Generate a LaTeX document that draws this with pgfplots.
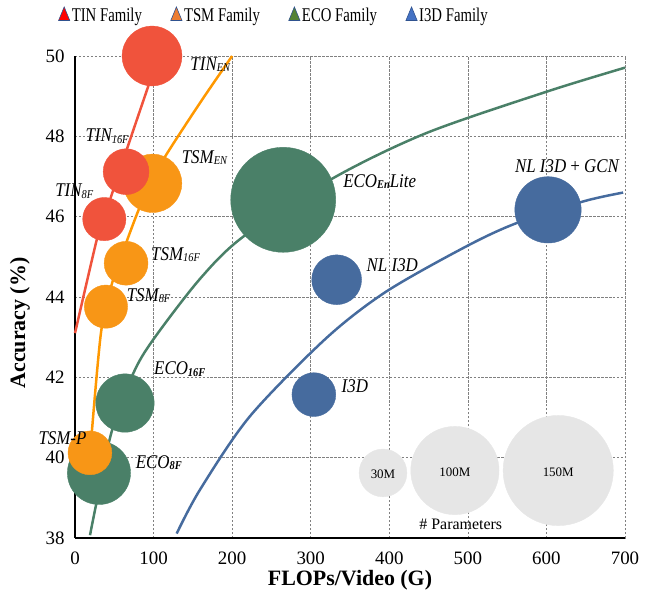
\documentclass[border=0pt]{standalone}
\usepackage{fontspec}
\setmainfont{Liberation Serif}
\newfontfamily\legfont[FakeStretch=0.76]{Liberation Serif}
\newfontfamily\labfont[FakeStretch=0.87]{Liberation Serif}
\usepackage{pgfplots}
\pgfplotsset{compat=1.18}

\definecolor{tinc}{RGB}{240,83,60}
\definecolor{tsmc}{RGB}{248,150,22}
\definecolor{tsml}{RGB}{255,152,0}
\definecolor{ecoc}{RGB}{74,128,104}
\definecolor{i3dc}{RGB}{70,107,158}
\definecolor{parc}{RGB}{230,230,230}
\definecolor{legout}{RGB}{47,82,143}
\definecolor{legtsm}{RGB}{237,125,49}
\definecolor{legeco}{RGB}{84,130,53}
\definecolor{legi3d}{RGB}{68,114,196}

\newcommand{\lf}{\labfont\fontsize{19.5}{19.5}\selectfont\itshape}
\newcommand{\sub}[1]{\raisebox{-1.5pt}{\fontsize{12}{12}\selectfont\itshape #1}}
\newcommand{\bsub}[1]{\raisebox{-1.5pt}{\fontsize{12}{12}\selectfont\bfseries\itshape #1}}
% bubble: colour, radius (bp), x, y
\newcommand{\bubble}[4]{\addplot[only marks, mark=*, mark size=#2pt, color=#1, forget plot] coordinates {(#3,#4)};}
\pgfplotsset{legtri/.style={only marks, mark=triangle*, mark size=6.5pt, mark options={fill=#1, draw=legout, line width=0.6pt, yscale=1.4}}}

\begin{document}
\begin{tikzpicture}
\begin{axis}[name=ax, scale only axis, width=550bp, height=482bp,
  xmin=0, xmax=700, ymin=38, ymax=50,
  xtick={0,100,...,700}, ytick={38,40,...,50},
  grid=major, major grid style={dash pattern=on 2.5pt off 1.5pt, gray, line width=0.7pt},
  axis x line*=bottom, axis y line*=left,
  axis line style={line width=2.8pt, -},
  major tick length=0pt,
  clip=false,
  /pgf/number format/assume math mode=true,
  ticklabel style={font=\rmfamily\fontsize{19}{19}\selectfont},
  xticklabel style={yshift=-10pt},
  yticklabel style={xshift=-7pt},
  xlabel={FLOPs/Video (G)},
  ylabel={Accuracy (\%)},
  xlabel style={font=\rmfamily\fontsize{22}{22}\selectfont\bfseries, at={(axis description cs:0.5,-0.0975)}, anchor=base},
  ylabel style={font=\rmfamily\fontsize{22}{22}\selectfont\bfseries, at={(axis description cs:-0.0909,0.446)}, anchor=base},
  legend style={at={(0.362,1.083)}, anchor=center, draw=none, fill=none,
    legend columns=4, font=\legfont\fontsize{19.5}{19.5}\selectfont,
    /tikz/every even column/.append style={column sep=27pt}},
]
\addlegendimage{legtri=red}
\addlegendentry{TIN Family}
\addlegendimage{legtri=legtsm}
\addlegendentry{TSM Family}
\addlegendimage{legtri=legeco}
\addlegendentry{ECO Family}
\addlegendimage{legtri=legi3d}
\addlegendentry{I3D Family}

% trend lines
\addplot[tinc, line width=2.5pt, smooth, tension=0.4, forget plot] coordinates {
 (0,43.1) (27.6,45.42) (37.3,46.0) (44.5,46.42) (70,47.91) (94.5,49.32)};
\addplot[tsml, line width=2.5pt, smooth, tension=0.5, forget plot] coordinates {
 (19.2,40.1) (33,43.1) (48,44.4) (65.7,45.38) (82.7,46.25) (98.8,46.9) (114.5,47.49) (159,48.83) (200,50)};
\addplot[ecoc, line width=2.5pt, smooth, tension=0.5, forget plot] coordinates {
 (19.1,38.07) (27.6,38.9) (46.7,40.65) (74.2,42.1) (99.6,42.94) (159,44.45) (214,45.5) (328.6,46.96) (447,48.08) (600,49.11) (700,49.71)};
\addplot[i3dc, line width=2.5pt, smooth, tension=0.5, forget plot] coordinates {
 (129.4,38.11) (159,39.2) (222.6,41.03) (320,42.98) (396.5,44.14) (498,45.26) (562,45.84) (647,46.38) (697.6,46.6)};

% bubbles: ECO
\bubble{ecoc}{29.3}{63.6}{41.36}
\bubble{ecoc}{31.7}{30.5}{39.62}
\bubble{ecoc}{52.7}{265}{46.42}
% I3D
\bubble{i3dc}{25}{333}{44.43}
\bubble{i3dc}{33.3}{602}{46.17}
\bubble{i3dc}{22}{304}{41.57}
% TSM
\bubble{tsmc}{29.3}{98.8}{46.83}
\bubble{tsmc}{22}{65}{44.84}
\bubble{tsmc}{21.7}{39.4}{43.76}
\bubble{tsmc}{22}{19}{40.12}
% TIN
\bubble{tinc}{30}{98}{50}
\bubble{tinc}{23}{65}{47.12}
\bubble{tinc}{21.7}{37.3}{45.94}
% parameter key
\bubble{parc}{24}{392}{39.62}
\bubble{parc}{44.3}{483.5}{39.68}
\bubble{parc}{55.3}{615}{39.68}

% label anchors
\coordinate (l1) at (axis cs:142.5,49.65);
\coordinate (l2) at (axis cs:8.9,47.87);
\coordinate (l3) at (axis cs:-29.6,46.50);
\coordinate (l4) at (axis cs:131.5,47.33);
\coordinate (l5) at (axis cs:92.5,44.91);
\coordinate (l6) at (axis cs:61.5,43.89);
\coordinate (l7) at (axis cs:96.3,42.06);
\coordinate (l8) at (axis cs:-50.9,40.32);
\coordinate (l9) at (axis cs:72.9,39.74);
\coordinate (l10) at (axis cs:337,46.73);
\coordinate (l11) at (axis cs:366.8,44.63);
\coordinate (l12) at (axis cs:555.6,47.10);
\coordinate (l13) at (axis cs:335,41.63);
\coordinate (p1) at (axis cs:392,39.58);
\coordinate (p2) at (axis cs:483.5,39.64);
\coordinate (p3) at (axis cs:615,39.64);
\coordinate (p4) at (axis cs:491,38.21);
\end{axis}
\node[anchor=base west, font=\lf] at (l1) {TIN\sub{EN}};
\node[anchor=base west, font=\lf] at (l2) {TIN\sub{16F}};
\node[anchor=base west, font=\lf] at (l3) {TIN\sub{8F}};
\node[anchor=base west, font=\lf] at (l4) {TSM\sub{EN}};
\node[anchor=base west, font=\lf] at (l5) {TSM\sub{16F}};
\node[anchor=base west, font=\lf] at (l6) {TSM\sub{8F}};
\node[anchor=base west, font=\lf] at (l7) {ECO\bsub{16F}};
\node[anchor=base west, font=\lf] at (l8) {TSM-P};
\node[anchor=base west, font=\lf] at (l9) {ECO\bsub{8F}};
\node[anchor=base west, font=\lf] at (l10) {ECO\bsub{En}Lite};
\node[anchor=base west, font=\lf] at (l11) {NL I3D};
\node[anchor=base west, font=\lf] at (l12) {NL I3D\,+\,GCN};
\node[anchor=base west, font=\lf] at (l13) {I3D};
\node[font=\rmfamily\fontsize{13}{13}\selectfont] at (p1) {30M};
\node[font=\rmfamily\fontsize{13}{13}\selectfont] at (p2) {100M};
\node[font=\rmfamily\fontsize{13}{13}\selectfont] at (p3) {150M};
\node[anchor=base, font=\rmfamily\fontsize{16}{16}\selectfont] at (p4) {\# Parameters};
\pgfresetboundingbox
\path ([shift={(-75bp,-62bp)}]ax.south west) rectangle ([shift={(39bp,56bp)}]ax.north east);
\end{tikzpicture}
\end{document}
